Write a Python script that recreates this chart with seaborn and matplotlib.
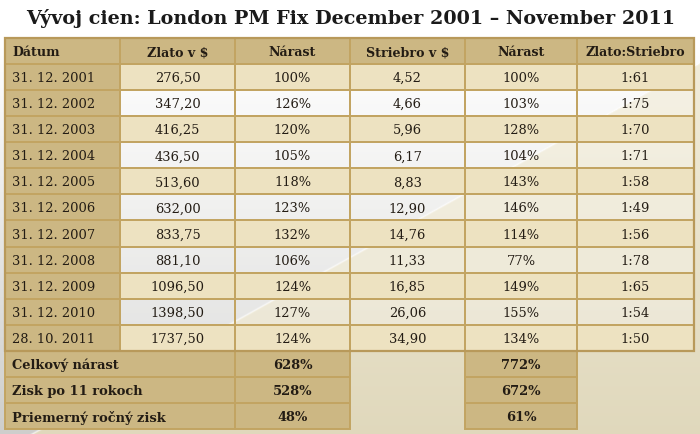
import numpy as np
import matplotlib
matplotlib.use("Agg")
import matplotlib.pyplot as plt
import seaborn as sns
from matplotlib.patches import Rectangle

# ---------------- data ----------------
title = "Vývoj cien: London PM Fix December 2001 – November 2011"
headers = ["Dátum", "Zlato v $", "Nárast", "Striebro v $", "Nárast", "Zlato:Striebro"]
dates = ["31. 12. 2001", "31. 12. 2002", "31. 12. 2003", "31. 12. 2004", "31. 12. 2005",
         "31. 12. 2006", "31. 12. 2007", "31. 12. 2008", "31. 12. 2009", "31. 12. 2010",
         "28. 10. 2011"]
gold = ["276,50", "347,20", "416,25", "436,50", "513,60", "632,00", "833,75", "881,10",
        "1096,50", "1398,50", "1737,50"]
gold_growth = ["100%", "126%", "120%", "105%", "118%", "123%", "132%", "106%", "124%",
               "127%", "124%"]
silver = ["4,52", "4,66", "5,96", "6,17", "8,83", "12,90", "14,76", "11,33", "16,85",
          "26,06", "34,90"]
silver_growth = ["100%", "103%", "128%", "104%", "143%", "146%", "114%", "77%", "149%",
                 "155%", "134%"]
ratio = ["1:61", "1:75", "1:70", "1:71", "1:58", "1:49", "1:56", "1:78", "1:65", "1:54",
         "1:50"]
summary_labels = ["Celkový nárast", "Zisk po 11 rokoch", "Priemerný ročný zisk"]
summary_gold = ["628%", "528%", "48%"]
summary_silver = ["772%", "672%", "61%"]

# ---------------- style ----------------
sns.set_theme(style="white")
plt.rcParams["font.family"] = ["DejaVu Serif"]

TAN = "#ccb783"
CREAM = "#ede2c1"
LINE = "#c2a462"
TXT = "#231c14"

W, H = 700, 435
fig = plt.figure(figsize=(7.0, 4.35), dpi=100)
ax = fig.add_axes([0, 0, 1, 1])
ax.set_xlim(0, W)
ax.set_ylim(H, 0)
ax.axis("off")

# background: white/grey on upper-left, beige on lower-right of a diagonal
yy, xx = np.mgrid[0:H, 0:W].astype(float)
d = xx - (427 - 1.8 * (yy - 215))
t = np.clip((yy - 40) / 390, 0, 1)[..., None]
grey = (1 - t) * np.array([1.0, 1.0, 1.0]) + t * np.array([0.81, 0.81, 0.80])
beige_top = np.array([0.95, 0.93, 0.86])
beige_bot = np.array([0.88, 0.85, 0.74])
beige = (1 - t) * beige_top + t * beige_bot
mask = (d > 0)[..., None]
bg = np.where(mask, beige, grey)
hl = np.exp(-(d / 2.0) ** 2)[..., None] * 0.6
bg = bg * (1 - hl) + hl
ax.imshow(bg, extent=[0, W, H, 0], aspect="auto", zorder=0)

col_edges = [5, 120, 235, 350, 465, 577, 694]
top = 39.0
rh = 26.07
n = len(dates)
FS = 9.4


def cell(c0, c1, r, color, alpha=1.0):
    x0 = col_edges[c0]
    x1 = col_edges[c1]
    y0 = top + r * rh
    ax.add_patch(Rectangle((x0, y0), x1 - x0, rh, facecolor=color, alpha=alpha,
                           edgecolor="none", zorder=1))
    ax.add_patch(Rectangle((x0, y0), x1 - x0, rh, facecolor="none",
                           edgecolor=LINE, lw=1.4, zorder=3))


def ctext(c, r, s, bold=False, left=False, fs=FS):
    y = top + (r + 0.5) * rh + 0.5
    if left:
        x = col_edges[c] + 7
        ha = "left"
    else:
        x = (col_edges[c] + col_edges[c + 1]) / 2
        ha = "center"
    ax.text(x, y, s, ha=ha, va="center", fontsize=fs, color=TXT,
            fontweight="bold" if bold else "normal", zorder=4)


# header
for c, h in enumerate(headers):
    cell(c, c + 1, 0, TAN)
    ctext(c, 0, h, bold=True, left=(c == 0), fs=9.1)

# body
cols = [gold, gold_growth, silver, silver_growth, ratio]
for i in range(n):
    r = i + 1
    cell(0, 1, r, TAN)
    ctext(0, r, dates[i], left=True)
    for j, vals in enumerate(cols):
        c = j + 1
        if i % 2 == 0:
            cell(c, c + 1, r, CREAM)
        else:
            cell(c, c + 1, r, "white", alpha=0.3)
        ctext(c, r, vals[i])

# summary
for k in range(len(summary_labels)):
    r = n + 1 + k
    cell(0, 2, r, TAN)
    ax.text(col_edges[0] + 7, top + (r + 0.5) * rh + 0.5, summary_labels[k],
            ha="left", va="center", fontsize=9.4, color=TXT, fontweight="bold", zorder=4)
    cell(2, 3, r, TAN)
    ctext(2, r, summary_gold[k], bold=True)
    cell(4, 5, r, TAN)
    ctext(4, r, summary_silver[k], bold=True)

# outer border of main table
ax.add_patch(Rectangle((col_edges[0], top), col_edges[-1] - col_edges[0], (n + 1) * rh,
                       facecolor="none", edgecolor="#b8995a", lw=1.6, zorder=5))

ax.text(351, 18, title, ha="center", va="center", fontsize=13.8, fontweight="bold",
        color="#1a1a1a", zorder=4)

fig.savefig("out.png", dpi=100)
